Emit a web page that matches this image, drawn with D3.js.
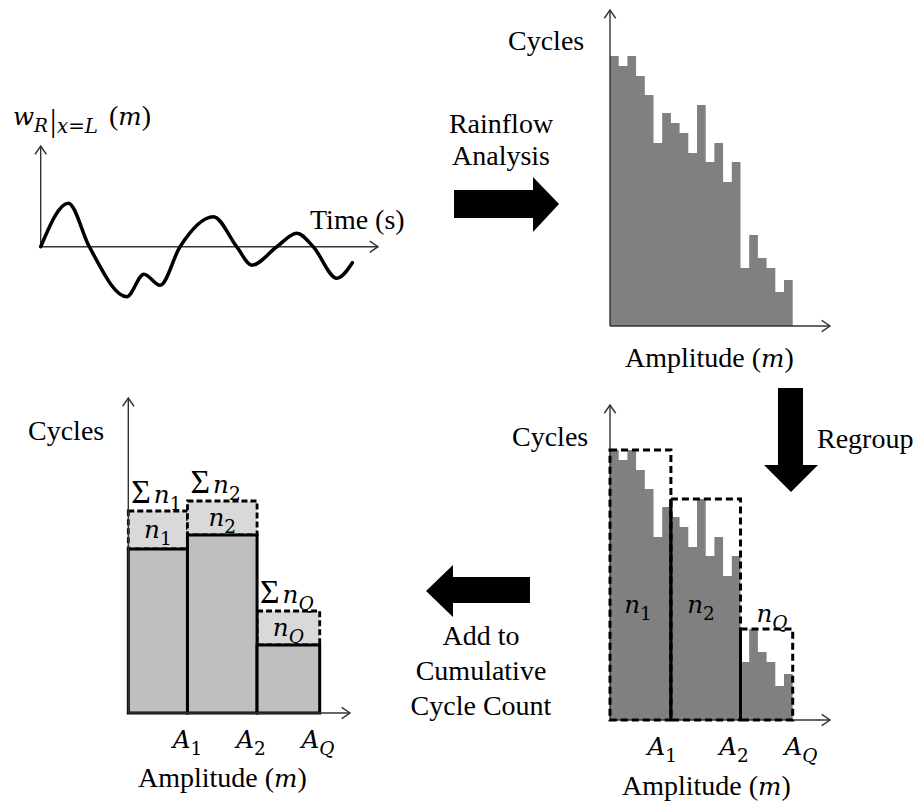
<!DOCTYPE html>
<html><head><meta charset="utf-8">
<script src="https://cdn.jsdelivr.net/npm/d3@7"></script>
<style>
body{margin:0;background:#fff}
text{font-family:"Liberation Serif","Times New Roman",serif;fill:#000}
</style>
</head><body>
<svg id="fig" width="921" height="808"></svg>
<script>
// Tip displacement signal: time (s) and displacement (m) at its turning points / zero crossings
const timePts = [0, 0.82, 1.44, 2.55, 3.06, 3.54, 4.13, 5.12, 5.81, 6.26, 7.0, 7.59, 8.08, 8.78, 9.24];
const dispPts = [0, 0.87, 0, -1.0, -0.55, -0.77, 0, 0.6, 0, -0.37, 0, 0.27, 0, -0.63, -0.32];

// Rainflow histogram: amplitude bins and cycle counts
const ampBins = [1,2,3,4,5,6,7,8,9,10,11,12,13,14,15,16,17,18,19,20,21];
const cycleCounts = [270,260,270,250,231,183,213,203,193,173,221,164,183,144,164,58,91,68,58,34,46];
// Regrouping of bins into amplitude classes A1, A2, AQ
const binGroup = [0,0,0,0,0,0,0,1,1,1,1,1,1,1,1,2,2,2,2,2,2];
const groupNames = ["1","2","Q"];

// Cumulative cycle count per class: previous total and cycles added
const cumEdges = [0, 6.8, 14.8, 22];
const cumPrev = [164, 178, 68];
const cumAdded = [38, 34, 34];

// Amplitude tick positions (class upper bounds) on each regrouped chart
const tickAmpRight = [6.0, 14.25, 21.95];
const tickAmpLeft = [6.8, 14.1, 21.8];

const svg = d3.select("#fig");
const FS = 28;
const MATH = "'DejaVu Serif', serif";

function arrowAxis(g, x1, y1, x2, y2) {
  g.append("line").attr("x1", x1).attr("y1", y1).attr("x2", x2).attr("y2", y2)
    .attr("stroke", "#333").attr("stroke-width", 1.4);
  const ang = Math.atan2(y2 - y1, x2 - x1), L = 10, w = 0.6;
  g.append("path")
    .attr("d", `M${x2 - L*Math.cos(ang - w)},${y2 - L*Math.sin(ang - w)}L${x2},${y2}L${x2 - L*Math.cos(ang + w)},${y2 - L*Math.sin(ang + w)}`)
    .attr("fill", "none").attr("stroke", "#333").attr("stroke-width", 1.4);
}

// rich text: runs of {t, it (italic math), math (upright math), sub, big, dx}
function rich(g, x, y, runs, anchor, size) {
  size = size || FS;
  const t = g.append("text").attr("x", x).attr("y", y).attr("text-anchor", anchor || "start")
    .style("font-size", size + "px");
  let inSub = false;
  runs.forEach(r => {
    const s = t.append("tspan").text(r.t);
    if (r.it) s.style("font-family", MATH).style("font-style", "italic");
    if (r.math) s.style("font-family", MATH);
    if (r.dx) s.attr("dx", r.dx);
    if (r.sub && !inSub) { s.attr("dy", size * 0.25); inSub = true; }
    else if (!r.sub && inSub) { s.attr("dy", -size * 0.25); inSub = false; }
    let fs = r.sub ? size * 0.66 : (r.it || r.math ? size * 0.88 : size);
    if (r.big) fs = size * 1.2;
    s.style("font-size", fs + "px");
  });
  return t;
}
const subRun = name => ({t:name, it: name === "Q", math: name !== "Q", sub:true});

/* ---------- top left: displacement time history ---------- */
const gSig = svg.append("g");
const xT = d3.scaleLinear().domain([0, 10]).range([40.7, 378]);
const yW = d3.scaleLinear().domain([-1, 1]).range([296.7, 196.7]);
arrowAxis(gSig, xT(0), yW(0), xT(0), 146);
arrowAxis(gSig, xT(0), yW(0), xT(10), yW(0));
gSig.append("path")
  .datum(timePts.map((t, i) => [t, dispPts[i]]))
  .attr("d", d3.line().x(d => xT(d[0])).y(d => yW(d[1])).curve(d3.curveMonotoneX))
  .attr("fill", "none").attr("stroke", "#000").attr("stroke-width", 3.5).attr("stroke-linecap", "round");
rich(gSig, 13, 125, [{t:"w", it:true}, {t:"R", it:true, sub:true}]);
gSig.append("text").attr("x", 50).attr("y", 131).style("font-size", "32px").text("|");
rich(gSig, 57, 125, [{t:"x=L", it:true, sub:true}], "start", 30);
rich(gSig, 109, 125, [{t:"("}, {t:"m", it:true}, {t:")"}]);
gSig.append("text").attr("x", 310).attr("y", 229).style("font-size", FS + "px").text("Time (s)");

/* ---------- histogram as a stepped area (no seams between bins) ---------- */
const xH = d3.scaleBand().domain(ampBins).range([610, 792.7]);
function stepHist(g, yS) {
  const pts = ampBins.map((b, i) => [xH(b), cycleCounts[i]]);
  pts.push([xH(ampBins[ampBins.length - 1]) + xH.bandwidth(), cycleCounts[cycleCounts.length - 1]]);
  g.append("path").datum(pts)
    .attr("d", d3.area().x(d => d[0]).y0(yS(0)).y1(d => yS(d[1])).curve(d3.curveStepAfter))
    .attr("fill", "#808080");
}

/* ---------- top right: rainflow histogram ---------- */
const gH = svg.append("g");
const yH = d3.scaleLinear().domain([0, 300]).range([326, 26]);
stepHist(gH, yH);
arrowAxis(gH, 610, 326, 610, 10);
arrowAxis(gH, 610, 326, 830, 326);
gH.append("text").attr("x", 508).attr("y", 50).style("font-size", FS + "px").text("Cycles");
rich(gH, 625, 367, [{t:"Amplitude ("}, {t:"m", it:true}, {t:")"}]);

/* ---------- bottom right: regrouped histogram ---------- */
const gR = svg.append("g");
const yR = d3.scaleLinear().domain([0, 300]).range([720, 420]);
stepHist(gR, yR);
const groups = groupNames.map((name, gi) => {
  const idx = ampBins.map((b, i) => i).filter(i => binGroup[i] === gi);
  return {
    name,
    x0: xH(ampBins[idx[0]]),
    x1: xH(ampBins[idx[idx.length - 1]]) + xH.bandwidth(),
    top: d3.max(idx, i => cycleCounts[i])
  };
});
arrowAxis(gR, 610, 720, 610, 405);
arrowAxis(gR, 610, 720, 830, 720);
// solid separators between adjacent classes
groups.slice(1).forEach(g => {
  gR.append("line").attr("x1", g.x0).attr("x2", g.x0).attr("y1", yR(0)).attr("y2", yR(g.top))
    .attr("stroke", "#000").attr("stroke-width", 3);
});
gR.selectAll("rect.box").data(groups).join("rect").attr("class", "box")
  .attr("x", d => d.x0).attr("width", d => d.x1 - d.x0)
  .attr("y", d => yR(d.top)).attr("height", d => yR(0) - yR(d.top))
  .attr("fill", "none").attr("stroke", "#000").attr("stroke-width", 3).attr("stroke-dasharray", "7,4");
const nPosR = [[638, 613], [701, 613], [772, 622]];
groups.forEach((g, i) => rich(gR, nPosR[i][0], nPosR[i][1], [{t:"n", it:true}, subRun(g.name)], "middle"));
tickAmpRight.forEach((a, i) => rich(gR, 610 + (a - 0.5) * xH.bandwidth() + xH.bandwidth() / 2, 755,
  [{t:"A", it:true}, subRun(groupNames[i])], "middle"));
gR.append("text").attr("x", 512).attr("y", 446).style("font-size", FS + "px").text("Cycles");
rich(gR, 622, 795, [{t:"Amplitude ("}, {t:"m", it:true}, {t:")"}]);
gR.append("text").attr("x", 817).attr("y", 448).style("font-size", FS + "px").text("Regroup");

/* ---------- bottom left: cumulative cycle count ---------- */
const gC = svg.append("g");
const xC = d3.scaleLinear().domain([0, 22]).range([128.3, 319.7]);
const yC = d3.scaleLinear().domain([0, 300]).range([713, 413]);
const cum = groupNames.map((name, i) => ({name, x0: xC(cumEdges[i]), x1: xC(cumEdges[i + 1]), prev: cumPrev[i], add: cumAdded[i]}));
gC.selectAll("rect.add").data(cum).join("rect").attr("class", "add")
  .attr("x", d => d.x0).attr("width", d => d.x1 - d.x0)
  .attr("y", d => yC(d.prev + d.add)).attr("height", d => yC(d.prev) - yC(d.prev + d.add))
  .attr("fill", "#d9d9d9").attr("stroke", "#000").attr("stroke-width", 2.8).attr("stroke-dasharray", "6,3");
gC.selectAll("rect.prev").data(cum).join("rect").attr("class", "prev")
  .attr("x", d => d.x0).attr("width", d => d.x1 - d.x0)
  .attr("y", d => yC(d.prev)).attr("height", d => yC(0) - yC(d.prev))
  .attr("fill", "#bfbfbf").attr("stroke", "#000").attr("stroke-width", 3);
arrowAxis(gC, 128.3, 713, 128.3, 398);
arrowAxis(gC, 128.3, 713, 350, 713);
cum.forEach(d => {
  const cx = (d.x0 + d.x1) / 2;
  rich(gC, d.x0 + 3, yC(d.prev + d.add) - 8, [{t:"Σ", big:true}, {t:"n", it:true, dx:3}, subRun(d.name)]);
  rich(gC, cx, (yC(d.prev) + yC(d.prev + d.add)) / 2 + 8, [{t:"n", it:true}, subRun(d.name)], "middle");
});
tickAmpLeft.forEach((a, i) => rich(gC, xC(a), 748, [{t:"A", it:true}, subRun(groupNames[i])], "middle"));
gC.append("text").attr("x", 28).attr("y", 440).style("font-size", FS + "px").text("Cycles");
rich(gC, 138, 787, [{t:"Amplitude ("}, {t:"m", it:true}, {t:")"}]);

/* ---------- process arrows ---------- */
const gA = svg.append("g").attr("fill", "#000");
gA.append("path").attr("d", "M454,190H533V177L559,204L533,232V218H454Z");
gA.append("path").attr("d", "M530,577H453V565L426,591L453,617V603H530Z");
gA.append("path").attr("d", "M778,388H803V465H818L791,492L764,465H778Z");
svg.append("text").attr("x", 501).attr("y", 133).attr("text-anchor", "middle").style("font-size", FS + "px").text("Rainflow");
svg.append("text").attr("x", 501).attr("y", 165).attr("text-anchor", "middle").style("font-size", FS + "px").text("Analysis");
["Add to", "Cumulative", "Cycle Count"].forEach((s, i) =>
  svg.append("text").attr("x", 481).attr("y", 645 + i * 35).attr("text-anchor", "middle").style("font-size", FS + "px").text(s));
</script>
</body></html>
